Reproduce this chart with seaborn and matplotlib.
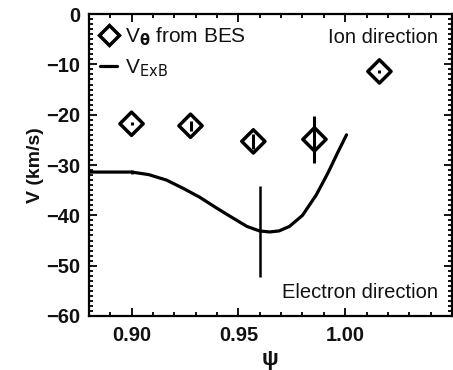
import matplotlib
matplotlib.use("Agg")
import matplotlib.pyplot as plt
import seaborn as sns
import pandas as pd
from matplotlib.ticker import MultipleLocator
from matplotlib.lines import Line2D

# BES poloidal velocity points
psi_bes = [0.900, 0.9276, 0.957, 0.9856, 1.016]
v_bes = [-21.8, -22.2, -25.3, -24.9, -11.4]
v_bes_err = [0.3, 1.0, 1.5, 4.7, 0.3]

# ExB velocity curve
psi_exb = [0.880, 0.890, 0.900, 0.908, 0.9164, 0.924, 0.9319, 0.940, 0.9473, 0.954,
           0.9599, 0.9646, 0.969, 0.9739, 0.980, 0.9865, 0.992, 0.9965, 1.0006]
v_exb = [-31.4, -31.4, -31.4, -31.9, -33.0, -34.6, -36.4, -38.6, -40.5, -42.2,
         -43.1, -43.3, -43.1, -42.2, -40.0, -35.9, -31.5, -27.5, -24.0]
# error bars on the ExB curve
psi_exb_err = [0.900, 0.960]
v_exb_errpt = [-31.4, -43.2]
v_exb_errval = [0.4, 9.0]

sns.set_theme(style="ticks")
plt.rcParams['font.family'] = ['Liberation Sans', 'DejaVu Sans']
plt.rcParams['axes.unicode_minus'] = True
plt.rcParams['text.color'] = '#111111'
plt.rcParams['axes.labelcolor'] = '#111111'

fig = plt.figure(figsize=(4.53, 3.70), dpi=100)
ax = fig.add_axes([0.196, 0.146, 0.802, 0.816])

df_exb = pd.DataFrame({"psi": psi_exb, "v": v_exb})
sns.lineplot(data=df_exb, x="psi", y="v", ax=ax, color="black", linewidth=2.3, sort=False)
ax.errorbar(psi_exb_err, v_exb_errpt, yerr=v_exb_errval, fmt="none", ecolor="black",
            elinewidth=1.8, capsize=0)

ax.errorbar(psi_bes, v_bes, yerr=v_bes_err, fmt="none", ecolor="black", elinewidth=2.2, capsize=0)
df_bes = pd.DataFrame({"psi": psi_bes, "v": v_bes})
sns.scatterplot(data=df_bes, x="psi", y="v", ax=ax, marker="D", s=140,
                facecolor="none", edgecolor="black", linewidth=2.5, zorder=5)

ax.set_xlim(0.88, 1.05)
ax.set_ylim(-60, 0)
ax.set_xticks([0.90, 0.95, 1.00])
ax.set_xticklabels(["0.90", "0.95", "1.00"])
ax.xaxis.set_minor_locator(MultipleLocator(0.01))
ax.yaxis.set_major_locator(MultipleLocator(10))
ax.yaxis.set_minor_locator(MultipleLocator(1))
ax.tick_params(which="both", direction="in", top=True, right=True, colors="black",
               labelcolor="#111111", labelsize=14.5, width=1.3)
ax.tick_params(which="major", length=6)
ax.tick_params(which="minor", length=3)
ax.tick_params(axis="x", which="major", pad=7)
ax.tick_params(axis="y", which="major", pad=6)
for lab in ax.get_xticklabels() + ax.get_yticklabels():
    lab.set_fontweight("bold")
for sp in ax.spines.values():
    sp.set_linewidth(1.6)
    sp.set_color("black")

ax.set_xlabel("ψ", fontsize=16, fontweight="bold", labelpad=3)
ax.set_ylabel("V (km/s)", fontsize=14, fontweight="bold", labelpad=2)

handles = [Line2D([], [], marker="D", linestyle="none", markerfacecolor="none",
                  markeredgecolor="black", markeredgewidth=2.5, markersize=10),
           Line2D([], [], color="black", linewidth=2.3)]
ax.legend(handles, [r"V$_{\mathbf{\theta}}$ from BES", r"V$_{\rm ExB}$"], loc="upper left",
          frameon=False, fontsize=15, handlelength=0.8, handletextpad=0.4,
          borderaxespad=0.15, borderpad=0.4, labelspacing=0.45)

ax.text(0.962, 0.955, "Ion direction", transform=ax.transAxes, ha="right", va="top", fontsize=14.5)
ax.text(0.962, 0.045, "Electron direction", transform=ax.transAxes, ha="right", va="bottom", fontsize=14.5)

fig.savefig("out.png", dpi=100)
